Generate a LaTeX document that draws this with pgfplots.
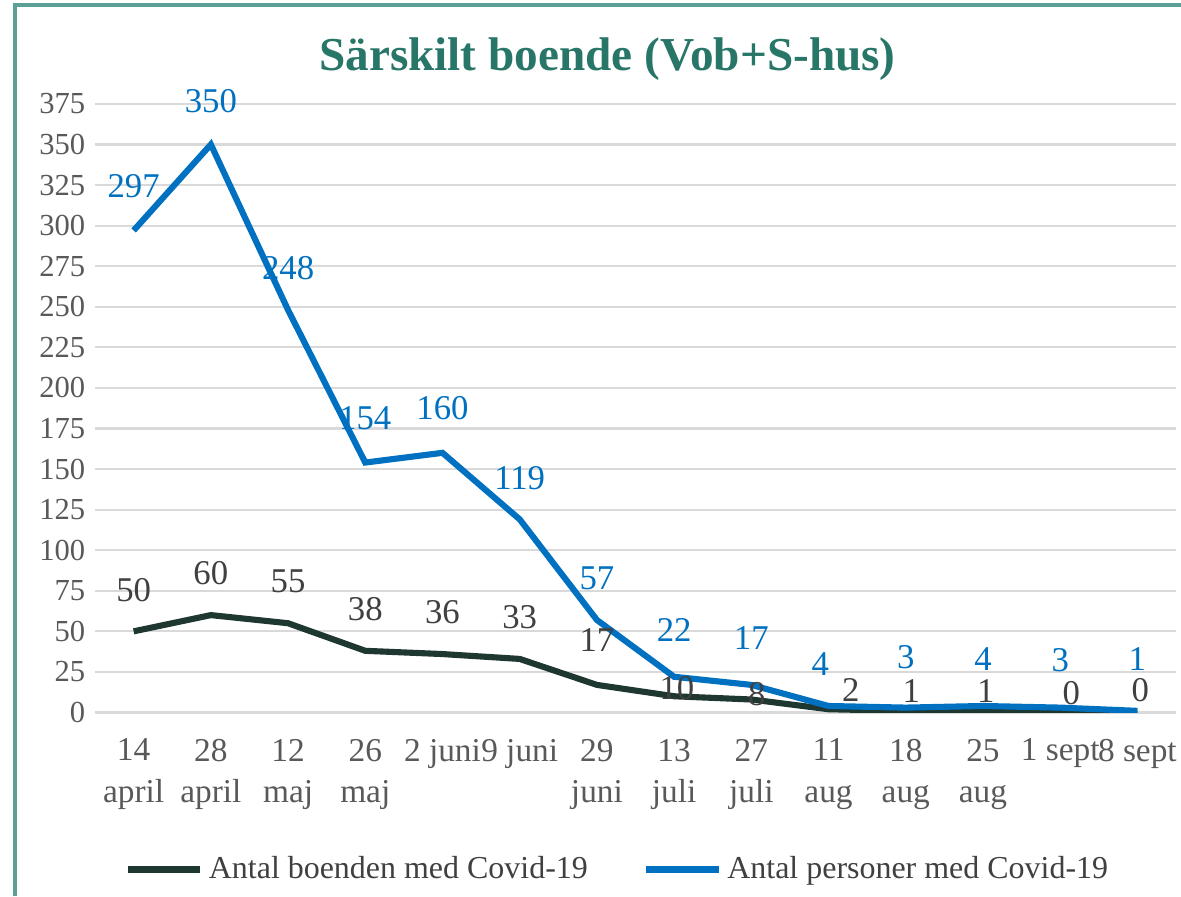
\documentclass[border=0pt]{standalone}
\usepackage{pgfplots}
\pgfplotsset{compat=1.18}
\usepackage{pgfplotstable}
\usepackage{fontspec}
\setmainfont{Liberation Serif}
\usetikzlibrary{calc}

\definecolor{bluecol}{RGB}{0,112,192}
\definecolor{darkcol}{RGB}{30,55,48}
\definecolor{labgray}{RGB}{64,64,64}
\definecolor{tickgray}{RGB}{89,89,89}
\definecolor{titlecol}{RGB}{40,118,104}
\definecolor{bordercol}{RGB}{90,160,150}

% x = date index, dx/dy = label offset (pt)
\pgfplotstableread{
x y dx dy
0 50 0 15
1 60 0 15
2 55 0 15
3 38 0 15
4 36 0 15
5 33 0 15
6 17 0 16
7 10 1 3
8 8 2 2
9 2 8 7
10 1 2 7
11 1 1 7
12 0 4 7
13 0 1 8
}\boenden

\pgfplotstableread{
x y dx dy
0 297 0 16
1 350 0 15.5
2 248 0 15
3 154 0 16
4 160 0 16
5 119 0 15
6 57 0 15
7 22 0 17
8 17 0 17
9 4 -3 15
10 3 0 18
11 4 0 17
12 3 0 17
13 1 0 18.5
}\personer

\begin{document}
\begin{tikzpicture}
\begin{axis}[
    name=ax,
    scale only axis,
    width=389pt, height=219pt,
    xmin=-0.5, xmax=13.5,
    ymin=0, ymax=375,
    ytick={0,25,...,375},
    xtick={0,...,13},
    xticklabels={{14\\april},{28\\april},{12\\maj},{26\\maj},{2 juni},{9 juni},{29\\juni},{13\\juli},{27\\juli},{11\\aug},{18\\aug},{25\\aug},{1 sept},{8 sept}},
    xticklabel style={align=center, font=\fontsize{12}{14.8}\selectfont, text=tickgray, anchor=north, yshift=-6pt},
    yticklabel style={font=\fontsize{11}{13}\selectfont, text=tickgray},
    /pgf/number format/assume math mode=true,
    axis line style={draw=none},
    major tick length=0pt,
    ymajorgrids,
    grid style={draw=gray!30, line width=0.8pt},
    title={Särskilt boende (Vob+S-hus)},
    title style={at={(0.474,1)}, anchor=center, yshift=10pt,
        font=\bfseries\fontsize{17}{20}\selectfont, text=titlecol},
    legend style={at={(0.485,-0.258)}, anchor=center, draw=none, fill=none,
        legend columns=2, font=\fontsize{11.5}{13}\selectfont, text=labgray,
        /tikz/every even column/.append style={column sep=18pt}},
    legend image code/.code={\draw[#1] (0pt,0pt) -- (26pt,0pt);},
    nodes near coords,
    visualization depends on={\thisrow{dx} \as \dx},
    visualization depends on={\thisrow{dy} \as \dy},
    every node near coord/.append style={anchor=center, xshift=\dx pt, yshift=\dy pt,
        inner sep=0.5pt, font=\fontsize{12.5}{14}\selectfont},
]
\addplot[darkcol, line width=2.2pt, mark=none,
    nodes near coords style={text=labgray}] table[x=x, y=y] {\boenden};
\addlegendentry{Antal boenden med Covid-19}
\addplot[bluecol, line width=2.2pt, mark=none,
    nodes near coords style={text=bluecol}] table[x=x, y=y] {\personer};
\addlegendentry{Antal personer med Covid-19}
\end{axis}
\pgfresetboundingbox
\path[use as bounding box] ($(ax.south west)+(-34.2pt,-66.2pt)$) rectangle ($(ax.north east)+(1.8pt,37.4pt)$);
\draw[bordercol, line width=1.5pt] ($(ax.south west)+(-28.8pt,-66.2pt)$) -- ($(ax.north west)+(-28.8pt,35.6pt)$) -- ($(ax.north east)+(1.8pt,35.6pt)$);
\end{tikzpicture}
\end{document}
